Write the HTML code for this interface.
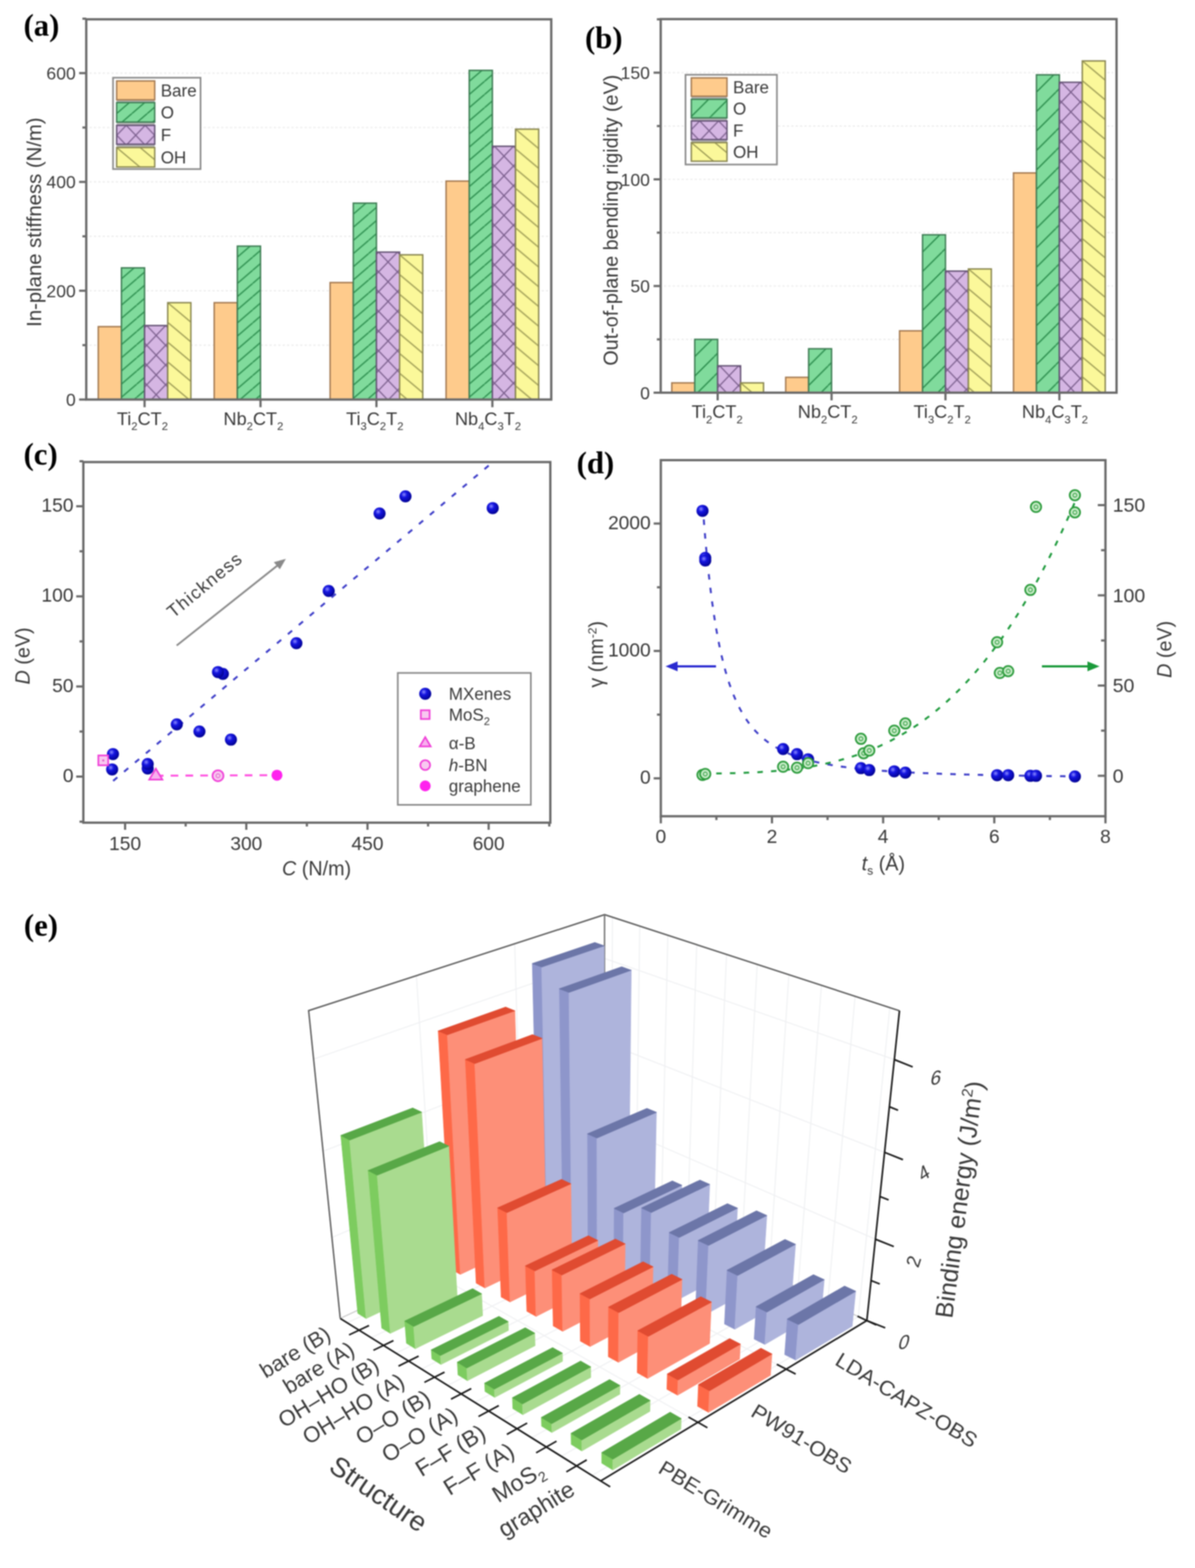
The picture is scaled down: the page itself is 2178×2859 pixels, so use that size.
<!DOCTYPE html>
<html><head><meta charset="utf-8"><style>html,body{margin:0;padding:0;background:#fff}svg{display:block;filter:blur(0.9px)}</style></head>
<body><svg width="2178" height="2859" viewBox="0 0 2178 2859">
<defs><pattern id="p1" patternUnits="userSpaceOnUse" x="221.3" y="484.4" width="27.91" height="24.00"><rect width="27.91" height="24.00" fill="#80db9c"/><path d="M-55.81,24.00 L-27.91,0 M-27.91,24.00 L0.00,0 M0.00,24.00 L27.91,0 M27.91,24.00 L55.81,0 " stroke="#2a8c4c" stroke-width="2.3" fill="none"/></pattern><pattern id="p2" patternUnits="userSpaceOnUse" x="267.4" y="593.6" width="34.50" height="36.00"><rect width="34.50" height="36.00" fill="#d5b6e3"/><path d="M-69.00,36.00 L-34.50,0 M-34.50,36.00 L0.00,0 M0.00,36.00 L34.50,0 M34.50,36.00 L69.00,0 M-34.50,0 L0.00,36.00 M0.00,0 L34.50,36.00 M34.50,0 L69.00,36.00 " stroke="#7a5e8c" stroke-width="2.2" fill="none"/></pattern><pattern id="p3" patternUnits="userSpaceOnUse" x="305.7" y="551.9" width="42.86" height="36.00"><rect width="42.86" height="36.00" fill="#fbf89a"/><path d="M-42.86,0 L0.00,36.00 M0.00,0 L42.86,36.00 M42.86,0 L85.71,36.00 " stroke="#9c9a55" stroke-width="2.3" fill="none"/></pattern><pattern id="p4" patternUnits="userSpaceOnUse" x="432.6" y="444.8" width="27.91" height="24.00"><rect width="27.91" height="24.00" fill="#80db9c"/><path d="M-55.81,24.00 L-27.91,0 M-27.91,24.00 L0.00,0 M0.00,24.00 L27.91,0 M27.91,24.00 L55.81,0 " stroke="#2a8c4c" stroke-width="2.3" fill="none"/></pattern><pattern id="p5" patternUnits="userSpaceOnUse" x="643.9" y="366.4" width="27.91" height="24.00"><rect width="27.91" height="24.00" fill="#80db9c"/><path d="M-55.81,24.00 L-27.91,0 M-27.91,24.00 L0.00,0 M0.00,24.00 L27.91,0 M27.91,24.00 L55.81,0 " stroke="#2a8c4c" stroke-width="2.3" fill="none"/></pattern><pattern id="p6" patternUnits="userSpaceOnUse" x="690.0" y="459.7" width="34.50" height="36.00"><rect width="34.50" height="36.00" fill="#d5b6e3"/><path d="M-69.00,36.00 L-34.50,0 M-34.50,36.00 L0.00,0 M0.00,36.00 L34.50,0 M34.50,36.00 L69.00,0 M-34.50,0 L0.00,36.00 M0.00,0 L34.50,36.00 M34.50,0 L69.00,36.00 " stroke="#7a5e8c" stroke-width="2.2" fill="none"/></pattern><pattern id="p7" patternUnits="userSpaceOnUse" x="728.3" y="464.6" width="42.86" height="36.00"><rect width="42.86" height="36.00" fill="#fbf89a"/><path d="M-42.86,0 L0.00,36.00 M0.00,0 L42.86,36.00 M42.86,0 L85.71,36.00 " stroke="#9c9a55" stroke-width="2.3" fill="none"/></pattern><pattern id="p8" patternUnits="userSpaceOnUse" x="855.2" y="124.3" width="27.91" height="24.00"><rect width="27.91" height="24.00" fill="#80db9c"/><path d="M-55.81,24.00 L-27.91,0 M-27.91,24.00 L0.00,0 M0.00,24.00 L27.91,0 M27.91,24.00 L55.81,0 " stroke="#2a8c4c" stroke-width="2.3" fill="none"/></pattern><pattern id="p9" patternUnits="userSpaceOnUse" x="901.3" y="266.7" width="34.50" height="36.00"><rect width="34.50" height="36.00" fill="#d5b6e3"/><path d="M-69.00,36.00 L-34.50,0 M-34.50,36.00 L0.00,0 M0.00,36.00 L34.50,0 M34.50,36.00 L69.00,0 M-34.50,0 L0.00,36.00 M0.00,0 L34.50,36.00 M34.50,0 L69.00,36.00 " stroke="#7a5e8c" stroke-width="2.2" fill="none"/></pattern><pattern id="p10" patternUnits="userSpaceOnUse" x="939.6" y="235.5" width="42.86" height="36.00"><rect width="42.86" height="36.00" fill="#fbf89a"/><path d="M-42.86,0 L0.00,36.00 M0.00,0 L42.86,36.00 M42.86,0 L85.71,36.00 " stroke="#9c9a55" stroke-width="2.3" fill="none"/></pattern><pattern id="p11" patternUnits="userSpaceOnUse" x="212.6" y="183.0" width="27.91" height="24.00"><rect width="27.91" height="24.00" fill="#80db9c"/><path d="M-55.81,24.00 L-27.91,0 M-27.91,24.00 L0.00,0 M0.00,24.00 L27.91,0 M27.91,24.00 L55.81,0 " stroke="#2a8c4c" stroke-width="2.3" fill="none"/></pattern><pattern id="p12" patternUnits="userSpaceOnUse" x="230.1" y="228.6" width="34.50" height="36.00"><rect width="34.50" height="36.00" fill="#d5b6e3"/><path d="M-69.00,36.00 L-34.50,0 M-34.50,36.00 L0.00,0 M0.00,36.00 L34.50,0 M34.50,36.00 L69.00,0 M-34.50,0 L0.00,36.00 M0.00,0 L34.50,36.00 M34.50,0 L69.00,36.00 " stroke="#7a5e8c" stroke-width="2.2" fill="none"/></pattern><pattern id="p13" patternUnits="userSpaceOnUse" x="212.6" y="269.0" width="42.86" height="36.00"><rect width="42.86" height="36.00" fill="#fbf89a"/><path d="M-42.86,0 L0.00,36.00 M0.00,0 L42.86,36.00 M42.86,0 L85.71,36.00 " stroke="#9c9a55" stroke-width="2.3" fill="none"/></pattern><pattern id="p14" patternUnits="userSpaceOnUse" x="1266.2" y="614.8" width="35.50" height="35.50"><rect width="35.50" height="35.50" fill="#80db9c"/><path d="M-71.00,35.50 L-35.50,0 M-35.50,35.50 L0.00,0 M0.00,35.50 L35.50,0 M35.50,35.50 L71.00,0 " stroke="#2a8c4c" stroke-width="2.3" fill="none"/></pattern><pattern id="p15" patternUnits="userSpaceOnUse" x="1311.7" y="667.0" width="34.50" height="36.00"><rect width="34.50" height="36.00" fill="#d5b6e3"/><path d="M-69.00,36.00 L-34.50,0 M-34.50,36.00 L0.00,0 M0.00,36.00 L34.50,0 M34.50,36.00 L69.00,0 M-34.50,0 L0.00,36.00 M0.00,0 L34.50,36.00 M34.50,0 L69.00,36.00 " stroke="#7a5e8c" stroke-width="2.2" fill="none"/></pattern><pattern id="p16" patternUnits="userSpaceOnUse" x="1349.8" y="698.1" width="42.86" height="36.00"><rect width="42.86" height="36.00" fill="#fbf89a"/><path d="M-42.86,0 L0.00,36.00 M0.00,0 L42.86,36.00 M42.86,0 L85.71,36.00 " stroke="#9c9a55" stroke-width="2.3" fill="none"/></pattern><pattern id="p17" patternUnits="userSpaceOnUse" x="1473.8" y="631.9" width="35.50" height="35.50"><rect width="35.50" height="35.50" fill="#80db9c"/><path d="M-71.00,35.50 L-35.50,0 M-35.50,35.50 L0.00,0 M0.00,35.50 L35.50,0 M35.50,35.50 L71.00,0 " stroke="#2a8c4c" stroke-width="2.3" fill="none"/></pattern><pattern id="p18" patternUnits="userSpaceOnUse" x="1681.4" y="424.1" width="35.50" height="35.50"><rect width="35.50" height="35.50" fill="#80db9c"/><path d="M-71.00,35.50 L-35.50,0 M-35.50,35.50 L0.00,0 M0.00,35.50 L35.50,0 M35.50,35.50 L71.00,0 " stroke="#2a8c4c" stroke-width="2.3" fill="none"/></pattern><pattern id="p19" patternUnits="userSpaceOnUse" x="1726.9" y="494.3" width="34.50" height="36.00"><rect width="34.50" height="36.00" fill="#d5b6e3"/><path d="M-69.00,36.00 L-34.50,0 M-34.50,36.00 L0.00,0 M0.00,36.00 L34.50,0 M34.50,36.00 L69.00,0 M-34.50,0 L0.00,36.00 M0.00,0 L34.50,36.00 M34.50,0 L69.00,36.00 " stroke="#7a5e8c" stroke-width="2.2" fill="none"/></pattern><pattern id="p20" patternUnits="userSpaceOnUse" x="1765.0" y="490.4" width="42.86" height="36.00"><rect width="42.86" height="36.00" fill="#fbf89a"/><path d="M-42.86,0 L0.00,36.00 M0.00,0 L42.86,36.00 M42.86,0 L85.71,36.00 " stroke="#9c9a55" stroke-width="2.3" fill="none"/></pattern><pattern id="p21" patternUnits="userSpaceOnUse" x="1889.0" y="132.4" width="35.50" height="35.50"><rect width="35.50" height="35.50" fill="#80db9c"/><path d="M-71.00,35.50 L-35.50,0 M-35.50,35.50 L0.00,0 M0.00,35.50 L35.50,0 M35.50,35.50 L71.00,0 " stroke="#2a8c4c" stroke-width="2.3" fill="none"/></pattern><pattern id="p22" patternUnits="userSpaceOnUse" x="1934.5" y="150.0" width="34.50" height="36.00"><rect width="34.50" height="36.00" fill="#d5b6e3"/><path d="M-69.00,36.00 L-34.50,0 M-34.50,36.00 L0.00,0 M0.00,36.00 L34.50,0 M34.50,36.00 L69.00,0 M-34.50,0 L0.00,36.00 M0.00,0 L34.50,36.00 M34.50,0 L69.00,36.00 " stroke="#7a5e8c" stroke-width="2.2" fill="none"/></pattern><pattern id="p23" patternUnits="userSpaceOnUse" x="1972.6" y="111.1" width="42.86" height="36.00"><rect width="42.86" height="36.00" fill="#fbf89a"/><path d="M-42.86,0 L0.00,36.00 M0.00,0 L42.86,36.00 M42.86,0 L85.71,36.00 " stroke="#9c9a55" stroke-width="2.3" fill="none"/></pattern><pattern id="p24" patternUnits="userSpaceOnUse" x="1260.0" y="177.0" width="35.50" height="35.50"><rect width="35.50" height="35.50" fill="#80db9c"/><path d="M-71.00,35.50 L-35.50,0 M-35.50,35.50 L0.00,0 M0.00,35.50 L35.50,0 M35.50,35.50 L71.00,0 " stroke="#2a8c4c" stroke-width="2.3" fill="none"/></pattern><pattern id="p25" patternUnits="userSpaceOnUse" x="1275.2" y="220.5" width="34.50" height="36.00"><rect width="34.50" height="36.00" fill="#d5b6e3"/><path d="M-69.00,36.00 L-34.50,0 M-34.50,36.00 L0.00,0 M0.00,36.00 L34.50,0 M34.50,36.00 L69.00,0 M-34.50,0 L0.00,36.00 M0.00,0 L34.50,36.00 M34.50,0 L69.00,36.00 " stroke="#7a5e8c" stroke-width="2.2" fill="none"/></pattern><pattern id="p26" patternUnits="userSpaceOnUse" x="1260.0" y="260.0" width="42.86" height="36.00"><rect width="42.86" height="36.00" fill="#fbf89a"/><path d="M-42.86,0 L0.00,36.00 M0.00,0 L42.86,36.00 M42.86,0 L85.71,36.00 " stroke="#9c9a55" stroke-width="2.3" fill="none"/></pattern><radialGradient id="gball" cx="0.38" cy="0.35" r="0.7"><stop offset="0" stop-color="#8c8cff"/><stop offset="0.35" stop-color="#1515e0"/><stop offset="1" stop-color="#00008c"/></radialGradient><clipPath id="clipc"><rect x="152" y="842.5" width="851" height="657.5"/></clipPath></defs>
<rect width="2178" height="2859" fill="#fff"/>
<line x1="163.2" y1="629.3" x2="998.7" y2="629.3" stroke="#ebebeb" stroke-width="2.2" stroke-dasharray="4,4"/>
<line x1="163.2" y1="530.1" x2="998.7" y2="530.1" stroke="#ebebeb" stroke-width="2.2" stroke-dasharray="4,4"/>
<line x1="163.2" y1="430.9" x2="998.7" y2="430.9" stroke="#ebebeb" stroke-width="2.2" stroke-dasharray="4,4"/>
<line x1="163.2" y1="331.7" x2="998.7" y2="331.7" stroke="#ebebeb" stroke-width="2.2" stroke-dasharray="4,4"/>
<line x1="163.2" y1="232.5" x2="998.7" y2="232.5" stroke="#ebebeb" stroke-width="2.2" stroke-dasharray="4,4"/>
<line x1="163.2" y1="133.3" x2="998.7" y2="133.3" stroke="#ebebeb" stroke-width="2.2" stroke-dasharray="4,4"/>
<rect x="179.1" y="595.6" width="42.2" height="132.9" fill="#fecb8c" stroke="#a47a52" stroke-width="2.6"/>
<rect x="221.3" y="488.4" width="42.2" height="240.1" fill="url(#p1)" stroke="#3f7d55" stroke-width="2.6"/>
<rect x="263.5" y="593.6" width="42.2" height="134.9" fill="url(#p2)" stroke="#655475" stroke-width="2.6"/>
<rect x="305.7" y="551.9" width="42.2" height="176.6" fill="url(#p3)" stroke="#8a8752" stroke-width="2.6"/>
<rect x="390.4" y="551.9" width="42.2" height="176.6" fill="#fecb8c" stroke="#a47a52" stroke-width="2.6"/>
<rect x="432.6" y="448.8" width="42.2" height="279.7" fill="url(#p4)" stroke="#3f7d55" stroke-width="2.6"/>
<rect x="601.7" y="515.2" width="42.2" height="213.3" fill="#fecb8c" stroke="#a47a52" stroke-width="2.6"/>
<rect x="643.9" y="370.4" width="42.2" height="358.1" fill="url(#p5)" stroke="#3f7d55" stroke-width="2.6"/>
<rect x="686.1" y="459.7" width="42.2" height="268.8" fill="url(#p6)" stroke="#655475" stroke-width="2.6"/>
<rect x="728.3" y="464.6" width="42.2" height="263.9" fill="url(#p7)" stroke="#8a8752" stroke-width="2.6"/>
<rect x="813.0" y="330.2" width="42.2" height="398.3" fill="#fecb8c" stroke="#a47a52" stroke-width="2.6"/>
<rect x="855.2" y="128.3" width="42.2" height="600.2" fill="url(#p8)" stroke="#3f7d55" stroke-width="2.6"/>
<rect x="897.4" y="266.7" width="42.2" height="461.8" fill="url(#p9)" stroke="#655475" stroke-width="2.6"/>
<rect x="939.6" y="235.5" width="42.2" height="493.0" fill="url(#p10)" stroke="#8a8752" stroke-width="2.6"/>
<rect x="157.2" y="35.2" width="847.5" height="693.3" fill="none" stroke="#6a6a6a" stroke-width="4.2"/>
<line x1="144.2" y1="728.5" x2="157.2" y2="728.5" stroke="#6a6a6a" stroke-width="4"/>
<text x="138.0" y="740.0" font-family="'Liberation Sans', Arial, sans-serif" font-size="32" fill="#3a3a3a" text-anchor="end">0</text>
<line x1="144.2" y1="530.1" x2="157.2" y2="530.1" stroke="#6a6a6a" stroke-width="4"/>
<text x="138.0" y="541.6" font-family="'Liberation Sans', Arial, sans-serif" font-size="32" fill="#3a3a3a" text-anchor="end">200</text>
<line x1="144.2" y1="331.7" x2="157.2" y2="331.7" stroke="#6a6a6a" stroke-width="4"/>
<text x="138.0" y="343.2" font-family="'Liberation Sans', Arial, sans-serif" font-size="32" fill="#3a3a3a" text-anchor="end">400</text>
<line x1="144.2" y1="133.3" x2="157.2" y2="133.3" stroke="#6a6a6a" stroke-width="4"/>
<text x="138.0" y="144.8" font-family="'Liberation Sans', Arial, sans-serif" font-size="32" fill="#3a3a3a" text-anchor="end">600</text>
<line x1="150.2" y1="629.3" x2="157.2" y2="629.3" stroke="#6a6a6a" stroke-width="4"/>
<line x1="150.2" y1="430.9" x2="157.2" y2="430.9" stroke="#6a6a6a" stroke-width="4"/>
<line x1="150.2" y1="232.5" x2="157.2" y2="232.5" stroke="#6a6a6a" stroke-width="4"/>
<line x1="150.2" y1="34.1" x2="157.2" y2="34.1" stroke="#6a6a6a" stroke-width="4"/>
<line x1="263.5" y1="728.5" x2="263.5" y2="742.5" stroke="#6a6a6a" stroke-width="4"/>
<line x1="474.8" y1="728.5" x2="474.8" y2="742.5" stroke="#6a6a6a" stroke-width="4"/>
<line x1="686.1" y1="728.5" x2="686.1" y2="742.5" stroke="#6a6a6a" stroke-width="4"/>
<line x1="897.4" y1="728.5" x2="897.4" y2="742.5" stroke="#6a6a6a" stroke-width="4"/>
<text x="259.5" y="774.5" font-family="'Liberation Sans', Arial, sans-serif" font-size="33" fill="#3a3a3a" text-anchor="middle"><tspan dy="0.0">Ti</tspan><tspan font-size="20.5" dy="9.9">2</tspan><tspan dy="-9.9">CT</tspan><tspan font-size="20.5" dy="9.9">2</tspan></text>
<text x="461.8" y="774.5" font-family="'Liberation Sans', Arial, sans-serif" font-size="33" fill="#3a3a3a" text-anchor="middle"><tspan dy="0.0">Nb</tspan><tspan font-size="20.5" dy="9.9">2</tspan><tspan dy="-9.9">CT</tspan><tspan font-size="20.5" dy="9.9">2</tspan></text>
<text x="683.1" y="774.5" font-family="'Liberation Sans', Arial, sans-serif" font-size="33" fill="#3a3a3a" text-anchor="middle"><tspan dy="0.0">Ti</tspan><tspan font-size="20.5" dy="9.9">3</tspan><tspan dy="-9.9">C</tspan><tspan font-size="20.5" dy="9.9">2</tspan><tspan dy="-9.9">T</tspan><tspan font-size="20.5" dy="9.9">2</tspan></text>
<text x="889.4" y="774.5" font-family="'Liberation Sans', Arial, sans-serif" font-size="33" fill="#3a3a3a" text-anchor="middle"><tspan dy="0.0">Nb</tspan><tspan font-size="20.5" dy="9.9">4</tspan><tspan dy="-9.9">C</tspan><tspan font-size="20.5" dy="9.9">3</tspan><tspan dy="-9.9">T</tspan><tspan font-size="20.5" dy="9.9">2</tspan></text>
<text x="0" y="0" transform="translate(75.0,405.0) rotate(-90)" font-family="'Liberation Sans', Arial, sans-serif" font-size="37" fill="#3a3a3a" text-anchor="middle">In-plane stiffness (N/m)</text>
<rect x="206.0" y="141.7" width="159.5" height="166.6" fill="#fff" stroke="#8a8a8a" stroke-width="3"/>
<rect x="212.6" y="147.6" width="69.4" height="156.9" fill="#b4b4b4"/>
<rect x="212.6" y="147.6" width="69.4" height="34.4" fill="#fecb8c" stroke="#a47a52" stroke-width="2.6"/>
<text x="292.9" y="175.8" font-family="'Liberation Sans', Arial, sans-serif" font-size="31" fill="#3a3a3a">Bare</text>
<rect x="212.6" y="187.0" width="69.4" height="35.6" fill="url(#p11)" stroke="#3f7d55" stroke-width="2.6"/>
<text x="292.9" y="215.8" font-family="'Liberation Sans', Arial, sans-serif" font-size="31" fill="#3a3a3a">O</text>
<rect x="212.6" y="228.6" width="69.4" height="34.4" fill="url(#p12)" stroke="#655475" stroke-width="2.6"/>
<text x="292.9" y="256.8" font-family="'Liberation Sans', Arial, sans-serif" font-size="31" fill="#3a3a3a">F</text>
<rect x="212.6" y="269.0" width="69.4" height="35.5" fill="url(#p13)" stroke="#8a8752" stroke-width="2.6"/>
<text x="292.9" y="297.8" font-family="'Liberation Sans', Arial, sans-serif" font-size="31" fill="#3a3a3a">OH</text>
<text x="42.9" y="65.3" font-family="'Liberation Serif', 'Times New Roman', serif" font-weight="bold" font-size="56" fill="#000">(a)</text>
<line x1="1210.2" y1="618.8" x2="2029.0" y2="618.8" stroke="#ebebeb" stroke-width="2.2" stroke-dasharray="4,4"/>
<line x1="1210.2" y1="521.5" x2="2029.0" y2="521.5" stroke="#ebebeb" stroke-width="2.2" stroke-dasharray="4,4"/>
<line x1="1210.2" y1="424.2" x2="2029.0" y2="424.2" stroke="#ebebeb" stroke-width="2.2" stroke-dasharray="4,4"/>
<line x1="1210.2" y1="327.0" x2="2029.0" y2="327.0" stroke="#ebebeb" stroke-width="2.2" stroke-dasharray="4,4"/>
<line x1="1210.2" y1="229.8" x2="2029.0" y2="229.8" stroke="#ebebeb" stroke-width="2.2" stroke-dasharray="4,4"/>
<line x1="1210.2" y1="132.5" x2="2029.0" y2="132.5" stroke="#ebebeb" stroke-width="2.2" stroke-dasharray="4,4"/>
<rect x="1224.4" y="698.1" width="41.8" height="17.9" fill="#fecb8c" stroke="#a47a52" stroke-width="2.6"/>
<rect x="1266.2" y="618.8" width="41.8" height="97.2" fill="url(#p14)" stroke="#3f7d55" stroke-width="2.6"/>
<rect x="1308.0" y="667.0" width="41.8" height="49.0" fill="url(#p15)" stroke="#655475" stroke-width="2.6"/>
<rect x="1349.8" y="698.1" width="41.8" height="17.9" fill="url(#p16)" stroke="#8a8752" stroke-width="2.6"/>
<rect x="1432.0" y="688.0" width="41.8" height="28.0" fill="#fecb8c" stroke="#a47a52" stroke-width="2.6"/>
<rect x="1473.8" y="635.9" width="41.8" height="80.1" fill="url(#p17)" stroke="#3f7d55" stroke-width="2.6"/>
<rect x="1639.6" y="603.2" width="41.8" height="112.8" fill="#fecb8c" stroke="#a47a52" stroke-width="2.6"/>
<rect x="1681.4" y="428.1" width="41.8" height="287.9" fill="url(#p18)" stroke="#3f7d55" stroke-width="2.6"/>
<rect x="1723.2" y="494.3" width="41.8" height="221.7" fill="url(#p19)" stroke="#655475" stroke-width="2.6"/>
<rect x="1765.0" y="490.4" width="41.8" height="225.6" fill="url(#p20)" stroke="#8a8752" stroke-width="2.6"/>
<rect x="1847.2" y="315.3" width="41.8" height="400.7" fill="#fecb8c" stroke="#a47a52" stroke-width="2.6"/>
<rect x="1889.0" y="136.4" width="41.8" height="579.6" fill="url(#p21)" stroke="#3f7d55" stroke-width="2.6"/>
<rect x="1930.8" y="150.0" width="41.8" height="566.0" fill="url(#p22)" stroke="#655475" stroke-width="2.6"/>
<rect x="1972.6" y="111.1" width="41.8" height="604.9" fill="url(#p23)" stroke="#8a8752" stroke-width="2.6"/>
<rect x="1204.2" y="34.8" width="830.8" height="681.2" fill="none" stroke="#6a6a6a" stroke-width="4.2"/>
<line x1="1191.2" y1="716.0" x2="1204.2" y2="716.0" stroke="#6a6a6a" stroke-width="4"/>
<text x="1184.5" y="727.5" font-family="'Liberation Sans', Arial, sans-serif" font-size="32" fill="#3a3a3a" text-anchor="end">0</text>
<line x1="1191.2" y1="521.5" x2="1204.2" y2="521.5" stroke="#6a6a6a" stroke-width="4"/>
<text x="1184.5" y="533.0" font-family="'Liberation Sans', Arial, sans-serif" font-size="32" fill="#3a3a3a" text-anchor="end">50</text>
<line x1="1191.2" y1="327.0" x2="1204.2" y2="327.0" stroke="#6a6a6a" stroke-width="4"/>
<text x="1184.5" y="338.5" font-family="'Liberation Sans', Arial, sans-serif" font-size="32" fill="#3a3a3a" text-anchor="end">100</text>
<line x1="1191.2" y1="132.5" x2="1204.2" y2="132.5" stroke="#6a6a6a" stroke-width="4"/>
<text x="1184.5" y="144.0" font-family="'Liberation Sans', Arial, sans-serif" font-size="32" fill="#3a3a3a" text-anchor="end">150</text>
<line x1="1197.2" y1="618.8" x2="1204.2" y2="618.8" stroke="#6a6a6a" stroke-width="4"/>
<line x1="1197.2" y1="424.2" x2="1204.2" y2="424.2" stroke="#6a6a6a" stroke-width="4"/>
<line x1="1197.2" y1="229.8" x2="1204.2" y2="229.8" stroke="#6a6a6a" stroke-width="4"/>
<line x1="1197.2" y1="35.2" x2="1204.2" y2="35.2" stroke="#6a6a6a" stroke-width="4"/>
<line x1="1308.0" y1="716.0" x2="1308.0" y2="730.0" stroke="#6a6a6a" stroke-width="4"/>
<line x1="1515.6" y1="716.0" x2="1515.6" y2="730.0" stroke="#6a6a6a" stroke-width="4"/>
<line x1="1723.2" y1="716.0" x2="1723.2" y2="730.0" stroke="#6a6a6a" stroke-width="4"/>
<line x1="1930.8" y1="716.0" x2="1930.8" y2="730.0" stroke="#6a6a6a" stroke-width="4"/>
<text x="1307.0" y="762.0" font-family="'Liberation Sans', Arial, sans-serif" font-size="33" fill="#3a3a3a" text-anchor="middle"><tspan dy="0.0">Ti</tspan><tspan font-size="20.5" dy="9.9">2</tspan><tspan dy="-9.9">CT</tspan><tspan font-size="20.5" dy="9.9">2</tspan></text>
<text x="1508.6" y="762.0" font-family="'Liberation Sans', Arial, sans-serif" font-size="33" fill="#3a3a3a" text-anchor="middle"><tspan dy="0.0">Nb</tspan><tspan font-size="20.5" dy="9.9">2</tspan><tspan dy="-9.9">CT</tspan><tspan font-size="20.5" dy="9.9">2</tspan></text>
<text x="1717.2" y="762.0" font-family="'Liberation Sans', Arial, sans-serif" font-size="33" fill="#3a3a3a" text-anchor="middle"><tspan dy="0.0">Ti</tspan><tspan font-size="20.5" dy="9.9">3</tspan><tspan dy="-9.9">C</tspan><tspan font-size="20.5" dy="9.9">2</tspan><tspan dy="-9.9">T</tspan><tspan font-size="20.5" dy="9.9">2</tspan></text>
<text x="1922.8" y="762.0" font-family="'Liberation Sans', Arial, sans-serif" font-size="33" fill="#3a3a3a" text-anchor="middle"><tspan dy="0.0">Nb</tspan><tspan font-size="20.5" dy="9.9">4</tspan><tspan dy="-9.9">C</tspan><tspan font-size="20.5" dy="9.9">3</tspan><tspan dy="-9.9">T</tspan><tspan font-size="20.5" dy="9.9">2</tspan></text>
<text x="0" y="0" transform="translate(1126.0,401.5) rotate(-90)" font-family="'Liberation Sans', Arial, sans-serif" font-size="36" fill="#3a3a3a" text-anchor="middle">Out-of-plane bending rigidity (eV)</text>
<rect x="1249.4" y="136.3" width="166.6" height="163.7" fill="#fff" stroke="#8a8a8a" stroke-width="3"/>
<rect x="1260.0" y="142.0" width="65.0" height="152.0" fill="#b4b4b4"/>
<rect x="1260.0" y="142.0" width="65.0" height="33.5" fill="#fecb8c" stroke="#a47a52" stroke-width="2.6"/>
<text x="1336.0" y="169.8" font-family="'Liberation Sans', Arial, sans-serif" font-size="31" fill="#3a3a3a">Bare</text>
<rect x="1260.0" y="181.0" width="65.0" height="34.0" fill="url(#p24)" stroke="#3f7d55" stroke-width="2.6"/>
<text x="1336.0" y="209.0" font-family="'Liberation Sans', Arial, sans-serif" font-size="31" fill="#3a3a3a">O</text>
<rect x="1260.0" y="220.5" width="65.0" height="34.0" fill="url(#p25)" stroke="#655475" stroke-width="2.6"/>
<text x="1336.0" y="248.5" font-family="'Liberation Sans', Arial, sans-serif" font-size="31" fill="#3a3a3a">F</text>
<rect x="1260.0" y="260.0" width="65.0" height="34.0" fill="url(#p26)" stroke="#8a8752" stroke-width="2.6"/>
<text x="1336.0" y="288.0" font-family="'Liberation Sans', Arial, sans-serif" font-size="31" fill="#3a3a3a">OH</text>
<text x="1066.2" y="88.1" font-family="'Liberation Serif', 'Times New Roman', serif" font-weight="bold" font-size="56" fill="#000">(b)</text>
<rect x="151.9" y="842.5" width="851.1" height="657.5" fill="none" stroke="#6a6a6a" stroke-width="4.2"/>
<line x1="138.9" y1="1416.0" x2="151.9" y2="1416.0" stroke="#6a6a6a" stroke-width="4"/>
<text x="134.0" y="1426.0" font-family="'Liberation Sans', Arial, sans-serif" font-size="35" fill="#3a3a3a" text-anchor="end">0</text>
<line x1="138.9" y1="1251.7" x2="151.9" y2="1251.7" stroke="#6a6a6a" stroke-width="4"/>
<text x="134.0" y="1261.7" font-family="'Liberation Sans', Arial, sans-serif" font-size="35" fill="#3a3a3a" text-anchor="end">50</text>
<line x1="138.9" y1="1087.4" x2="151.9" y2="1087.4" stroke="#6a6a6a" stroke-width="4"/>
<text x="134.0" y="1097.4" font-family="'Liberation Sans', Arial, sans-serif" font-size="35" fill="#3a3a3a" text-anchor="end">100</text>
<line x1="138.9" y1="923.1" x2="151.9" y2="923.1" stroke="#6a6a6a" stroke-width="4"/>
<text x="134.0" y="933.1" font-family="'Liberation Sans', Arial, sans-serif" font-size="35" fill="#3a3a3a" text-anchor="end">150</text>
<line x1="144.9" y1="1498.2" x2="151.9" y2="1498.2" stroke="#6a6a6a" stroke-width="4"/>
<line x1="144.9" y1="1333.8" x2="151.9" y2="1333.8" stroke="#6a6a6a" stroke-width="4"/>
<line x1="144.9" y1="1169.5" x2="151.9" y2="1169.5" stroke="#6a6a6a" stroke-width="4"/>
<line x1="144.9" y1="1005.2" x2="151.9" y2="1005.2" stroke="#6a6a6a" stroke-width="4"/>
<line x1="144.9" y1="841.0" x2="151.9" y2="841.0" stroke="#6a6a6a" stroke-width="4"/>
<line x1="228.0" y1="1500.0" x2="228.0" y2="1513.0" stroke="#6a6a6a" stroke-width="4"/>
<text x="228.0" y="1550.0" font-family="'Liberation Sans', Arial, sans-serif" font-size="35" fill="#3a3a3a" text-anchor="middle">150</text>
<line x1="448.9" y1="1500.0" x2="448.9" y2="1513.0" stroke="#6a6a6a" stroke-width="4"/>
<text x="448.9" y="1550.0" font-family="'Liberation Sans', Arial, sans-serif" font-size="35" fill="#3a3a3a" text-anchor="middle">300</text>
<line x1="669.8" y1="1500.0" x2="669.8" y2="1513.0" stroke="#6a6a6a" stroke-width="4"/>
<text x="669.8" y="1550.0" font-family="'Liberation Sans', Arial, sans-serif" font-size="35" fill="#3a3a3a" text-anchor="middle">450</text>
<line x1="890.6" y1="1500.0" x2="890.6" y2="1513.0" stroke="#6a6a6a" stroke-width="4"/>
<text x="890.6" y="1550.0" font-family="'Liberation Sans', Arial, sans-serif" font-size="35" fill="#3a3a3a" text-anchor="middle">600</text>
<line x1="338.4" y1="1500.0" x2="338.4" y2="1507.0" stroke="#6a6a6a" stroke-width="4"/>
<line x1="559.3" y1="1500.0" x2="559.3" y2="1507.0" stroke="#6a6a6a" stroke-width="4"/>
<line x1="780.2" y1="1500.0" x2="780.2" y2="1507.0" stroke="#6a6a6a" stroke-width="4"/>
<line x1="1001.1" y1="1500.0" x2="1001.1" y2="1507.0" stroke="#6a6a6a" stroke-width="4"/>
<line x1="206.2" y1="1423.9" x2="900.0" y2="841.0" stroke="#3e3ec8" stroke-width="3.6" stroke-dasharray="10,16" clip-path="url(#clipc)"/>
<line x1="284.0" y1="1414.4" x2="504.8" y2="1413.4" stroke="#ff50e0" stroke-width="3.6" stroke-dasharray="14,13"/>
<circle cx="204.4" cy="1402.9" r="11" fill="url(#gball)"/>
<circle cx="363.5" cy="1333.8" r="11" fill="url(#gball)"/>
<circle cx="205.9" cy="1374.9" r="11" fill="url(#gball)"/>
<circle cx="269.2" cy="1401.2" r="11" fill="url(#gball)"/>
<circle cx="269.2" cy="1393.0" r="11" fill="url(#gball)"/>
<circle cx="420.9" cy="1348.6" r="11" fill="url(#gball)"/>
<circle cx="322.2" cy="1320.7" r="11" fill="url(#gball)"/>
<circle cx="540.2" cy="1172.8" r="11" fill="url(#gball)"/>
<circle cx="406.2" cy="1228.7" r="11" fill="url(#gball)"/>
<circle cx="397.3" cy="1225.4" r="11" fill="url(#gball)"/>
<circle cx="599.1" cy="1077.5" r="11" fill="url(#gball)"/>
<circle cx="898.0" cy="926.4" r="11" fill="url(#gball)"/>
<circle cx="691.8" cy="936.2" r="11" fill="url(#gball)"/>
<circle cx="739.0" cy="905.0" r="11" fill="url(#gball)"/>
<rect x="179.2" y="1377.4" width="18" height="18" fill="#f8c8f0" stroke="#f040d8" stroke-width="3"/><circle cx="188.2" cy="1386.4" r="2" fill="#e060c8"/>
<path d="M284.0,1401.4 l12,20 l-24,0 z" fill="#f8b0ee" stroke="#f040d8" stroke-width="3"/>
<circle cx="397.3" cy="1414.4" r="10" fill="#f8c8f0" stroke="#f040d8" stroke-width="3"/><circle cx="397.3" cy="1414.4" r="3.5" fill="none" stroke="#e060c8" stroke-width="1.5"/>
<circle cx="504.8" cy="1413.4" r="10" fill="#ff22ee"/>
<rect x="725" y="1227" width="242.5" height="240.5" fill="#fff" stroke="#8a8a8a" stroke-width="3"/>
<circle cx="775" cy="1265" r="11" fill="url(#gball)"/>
<rect x="767" y="1295" width="16" height="16" fill="#f8c8f0" stroke="#f040d8" stroke-width="3"/>
<path d="M775,1344 l10,17 l-20,0 z" fill="#f8b0ee" stroke="#f040d8" stroke-width="3"/>
<circle cx="775" cy="1395" r="9" fill="#f8c8f0" stroke="#f040d8" stroke-width="3"/>
<circle cx="775" cy="1433" r="10" fill="#ff22ee"/>
<text x="818" y="1276" font-family="'Liberation Sans', Arial, sans-serif" font-size="31" fill="#3a3a3a">MXenes</text>
<text x="818" y="1314" font-family="'Liberation Sans', Arial, sans-serif" font-size="31" fill="#3a3a3a">MoS<tspan font-size="20" dy="8">2</tspan></text>
<text x="818" y="1366" font-family="'Liberation Sans', Arial, sans-serif" font-size="31" fill="#3a3a3a">&#945;-B</text>
<text x="818" y="1406" font-family="'Liberation Sans', Arial, sans-serif" font-size="31" fill="#3a3a3a"><tspan font-style="italic">h</tspan>-BN</text>
<text x="818" y="1444" font-family="'Liberation Sans', Arial, sans-serif" font-size="31" fill="#3a3a3a">graphene</text>
<line x1="322" y1="1177" x2="512" y2="1026" stroke="#8a8a8a" stroke-width="3.4"/>
<path d="M521,1019 l-22,6 l11,13 z" fill="#8a8a8a"/>
<text x="0" y="0" transform="translate(316,1128) rotate(-39.5)" font-family="'Liberation Sans', Arial, sans-serif" font-size="33" letter-spacing="2" fill="#3a3a3a">Thickness</text>
<text x="577" y="1596" font-family="'Liberation Sans', Arial, sans-serif" font-size="36" fill="#3a3a3a" text-anchor="middle"><tspan font-style="italic">C</tspan> (N/m)</text>
<text x="0" y="0" transform="translate(54,1196) rotate(-90)" font-family="'Liberation Sans', Arial, sans-serif" font-size="36" fill="#3a3a3a" text-anchor="middle"><tspan font-style="italic">D</tspan> (eV)</text>
<text x="42.9" y="846.6" font-family="'Liberation Serif', 'Times New Roman', serif" font-weight="bold" font-size="56" fill="#000">(c)</text>
<rect x="1204.4" y="839.0" width="810.4" height="649.3" fill="none" stroke="#6a6a6a" stroke-width="4.2"/>
<line x1="1191.4" y1="1419.2" x2="1204.4" y2="1419.2" stroke="#6a6a6a" stroke-width="4"/>
<text x="1186.0" y="1429.2" font-family="'Liberation Sans', Arial, sans-serif" font-size="35" fill="#3a3a3a" text-anchor="end">0</text>
<line x1="1191.4" y1="1186.9" x2="1204.4" y2="1186.9" stroke="#6a6a6a" stroke-width="4"/>
<text x="1186.0" y="1196.9" font-family="'Liberation Sans', Arial, sans-serif" font-size="35" fill="#3a3a3a" text-anchor="end">1000</text>
<line x1="1191.4" y1="954.6" x2="1204.4" y2="954.6" stroke="#6a6a6a" stroke-width="4"/>
<text x="1186.0" y="964.6" font-family="'Liberation Sans', Arial, sans-serif" font-size="35" fill="#3a3a3a" text-anchor="end">2000</text>
<line x1="1197.4" y1="1303.0" x2="1204.4" y2="1303.0" stroke="#6a6a6a" stroke-width="4"/>
<line x1="1197.4" y1="1070.8" x2="1204.4" y2="1070.8" stroke="#6a6a6a" stroke-width="4"/>
<line x1="2014.8" y1="1414.5" x2="2000.8" y2="1414.5" stroke="#6a6a6a" stroke-width="4"/>
<text x="2028.0" y="1426.5" font-family="'Liberation Sans', Arial, sans-serif" font-size="35.5" fill="#3a3a3a">0</text>
<line x1="2014.8" y1="1250.0" x2="2000.8" y2="1250.0" stroke="#6a6a6a" stroke-width="4"/>
<text x="2028.0" y="1262.0" font-family="'Liberation Sans', Arial, sans-serif" font-size="35.5" fill="#3a3a3a">50</text>
<line x1="2014.8" y1="1085.5" x2="2000.8" y2="1085.5" stroke="#6a6a6a" stroke-width="4"/>
<text x="2028.0" y="1097.5" font-family="'Liberation Sans', Arial, sans-serif" font-size="35.5" fill="#3a3a3a">100</text>
<line x1="2014.8" y1="921.0" x2="2000.8" y2="921.0" stroke="#6a6a6a" stroke-width="4"/>
<text x="2028.0" y="933.0" font-family="'Liberation Sans', Arial, sans-serif" font-size="35.5" fill="#3a3a3a">150</text>
<line x1="2014.8" y1="1332.2" x2="2006.8" y2="1332.2" stroke="#6a6a6a" stroke-width="4"/>
<line x1="2014.8" y1="1167.8" x2="2006.8" y2="1167.8" stroke="#6a6a6a" stroke-width="4"/>
<line x1="2014.8" y1="1003.2" x2="2006.8" y2="1003.2" stroke="#6a6a6a" stroke-width="4"/>
<line x1="1204.4" y1="1488.3" x2="1204.4" y2="1501.3" stroke="#6a6a6a" stroke-width="4"/>
<text x="1204.4" y="1537.3" font-family="'Liberation Sans', Arial, sans-serif" font-size="35" fill="#3a3a3a" text-anchor="middle">0</text>
<line x1="1407.0" y1="1488.3" x2="1407.0" y2="1501.3" stroke="#6a6a6a" stroke-width="4"/>
<text x="1407.0" y="1537.3" font-family="'Liberation Sans', Arial, sans-serif" font-size="35" fill="#3a3a3a" text-anchor="middle">2</text>
<line x1="1609.6" y1="1488.3" x2="1609.6" y2="1501.3" stroke="#6a6a6a" stroke-width="4"/>
<text x="1609.6" y="1537.3" font-family="'Liberation Sans', Arial, sans-serif" font-size="35" fill="#3a3a3a" text-anchor="middle">4</text>
<line x1="1812.2" y1="1488.3" x2="1812.2" y2="1501.3" stroke="#6a6a6a" stroke-width="4"/>
<text x="1812.2" y="1537.3" font-family="'Liberation Sans', Arial, sans-serif" font-size="35" fill="#3a3a3a" text-anchor="middle">6</text>
<line x1="2014.8" y1="1488.3" x2="2014.8" y2="1501.3" stroke="#6a6a6a" stroke-width="4"/>
<text x="2014.8" y="1537.3" font-family="'Liberation Sans', Arial, sans-serif" font-size="35" fill="#3a3a3a" text-anchor="middle">8</text>
<line x1="1305.7" y1="1488.3" x2="1305.7" y2="1495.3" stroke="#6a6a6a" stroke-width="4"/>
<line x1="1508.3" y1="1488.3" x2="1508.3" y2="1495.3" stroke="#6a6a6a" stroke-width="4"/>
<line x1="1710.9" y1="1488.3" x2="1710.9" y2="1495.3" stroke="#6a6a6a" stroke-width="4"/>
<line x1="1913.5" y1="1488.3" x2="1913.5" y2="1495.3" stroke="#6a6a6a" stroke-width="4"/>
<polyline points="1280.8,922.3 1284.2,967.3 1287.7,1006.6 1291.1,1041.1 1294.6,1071.5 1298.0,1098.5 1301.5,1122.5 1304.9,1144.0 1308.4,1163.2 1311.8,1180.6 1315.3,1196.3 1318.8,1210.5 1322.2,1223.4 1325.7,1235.2 1329.1,1246.0 1332.6,1255.8 1336.0,1264.9 1339.5,1273.3 1342.9,1281.0 1346.4,1288.1 1349.8,1294.7 1353.3,1300.8 1356.7,1306.5 1360.2,1311.8 1363.6,1316.7 1367.1,1321.4 1370.5,1325.7 1374.0,1329.7 1377.4,1333.5 1380.9,1337.1 1384.3,1340.4 1387.8,1343.6 1391.2,1346.6 1394.7,1349.4 1398.1,1352.0 1401.6,1354.5 1405.0,1356.9 1408.5,1359.1 1411.9,1361.3 1415.4,1363.3 1418.8,1365.2 1422.3,1367.0 1425.7,1368.7 1429.2,1370.4 1432.6,1372.0 1436.1,1373.5 1439.5,1374.9 1443.0,1376.3 1446.5,1377.6 1449.9,1378.8 1453.4,1380.0 1456.8,1381.2 1460.3,1382.2 1463.7,1383.3 1467.2,1384.3 1470.6,1385.3 1474.1,1386.2 1477.5,1387.1 1481.0,1387.9 1484.4,1388.8 1487.9,1389.6 1491.3,1390.3 1494.8,1391.1 1498.2,1391.8 1501.7,1392.4 1505.1,1393.1 1508.6,1393.7 1512.0,1394.3 1515.5,1394.9 1518.9,1395.5 1522.4,1396.0 1525.8,1396.6 1529.3,1397.1 1532.7,1397.6 1536.2,1398.1 1539.6,1398.5 1543.1,1399.0 1546.5,1399.4 1550.0,1399.8 1553.4,1400.2 1556.9,1400.6 1560.3,1401.0 1563.8,1401.4 1567.2,1401.8 1570.7,1402.1 1574.2,1402.5 1577.6,1402.8 1581.1,1403.1 1584.5,1403.4 1588.0,1403.7 1591.4,1404.0 1594.9,1404.3 1598.3,1404.6 1601.8,1404.9 1605.2,1405.1 1608.7,1405.4 1612.1,1405.6 1615.6,1405.9 1619.0,1406.1 1622.5,1406.3 1625.9,1406.6 1629.4,1406.8 1632.8,1407.0 1636.3,1407.2 1639.7,1407.4 1643.2,1407.6 1646.6,1407.8 1650.1,1408.0 1653.5,1408.2 1657.0,1408.4 1660.4,1408.5 1663.9,1408.7 1667.3,1408.9 1670.8,1409.0 1674.2,1409.2 1677.7,1409.4 1681.1,1409.5 1684.6,1409.7 1688.0,1409.8 1691.5,1409.9 1694.9,1410.1 1698.4,1410.2 1701.8,1410.4 1705.3,1410.5 1708.8,1410.6 1712.2,1410.7 1715.7,1410.9 1719.1,1411.0 1722.6,1411.1 1726.0,1411.2 1729.5,1411.3 1732.9,1411.4 1736.4,1411.5 1739.8,1411.6 1743.3,1411.8 1746.7,1411.9 1750.2,1412.0 1753.6,1412.0 1757.1,1412.1 1760.5,1412.2 1764.0,1412.3 1767.4,1412.4 1770.9,1412.5 1774.3,1412.6 1777.8,1412.7 1781.2,1412.8 1784.7,1412.8 1788.1,1412.9 1791.6,1413.0 1795.0,1413.1 1798.5,1413.2 1801.9,1413.2 1805.4,1413.3 1808.8,1413.4 1812.3,1413.5 1815.7,1413.5 1819.2,1413.6 1822.6,1413.7 1826.1,1413.7 1829.5,1413.8 1833.0,1413.9 1836.5,1413.9 1839.9,1414.0 1843.4,1414.0 1846.8,1414.1 1850.3,1414.2 1853.7,1414.2 1857.2,1414.3 1860.6,1414.3 1864.1,1414.4 1867.5,1414.4 1871.0,1414.5 1874.4,1414.5 1877.9,1414.6 1881.3,1414.6 1884.8,1414.7 1888.2,1414.7 1891.7,1414.8 1895.1,1414.8 1898.6,1414.9 1902.0,1414.9 1905.5,1415.0 1908.9,1415.0 1912.4,1415.1 1915.8,1415.1 1919.3,1415.1 1922.7,1415.2 1926.2,1415.2 1929.6,1415.3 1933.1,1415.3 1936.5,1415.3 1940.0,1415.4 1943.4,1415.4 1946.9,1415.5 1950.3,1415.5 1953.8,1415.5 1957.2,1415.6 1960.7,1415.6 1964.2,1415.6" fill="none" stroke="#3e3ec8" stroke-width="3.6" stroke-dasharray="10,15"/>
<polyline points="1280.4,1410.5 1283.8,1410.5 1287.2,1410.5 1290.6,1410.5 1294.0,1410.4 1297.4,1410.4 1300.8,1410.4 1304.2,1410.3 1307.7,1410.3 1311.1,1410.2 1314.5,1410.2 1317.9,1410.1 1321.3,1410.0 1324.7,1410.0 1328.1,1409.9 1331.5,1409.8 1334.9,1409.7 1338.4,1409.7 1341.8,1409.6 1345.2,1409.5 1348.6,1409.3 1352.0,1409.2 1355.4,1409.1 1358.8,1409.0 1362.2,1408.8 1365.6,1408.7 1369.1,1408.5 1372.5,1408.4 1375.9,1408.2 1379.3,1408.0 1382.7,1407.9 1386.1,1407.7 1389.5,1407.4 1392.9,1407.2 1396.3,1407.0 1399.7,1406.8 1403.2,1406.5 1406.6,1406.3 1410.0,1406.0 1413.4,1405.7 1416.8,1405.4 1420.2,1405.1 1423.6,1404.8 1427.0,1404.4 1430.4,1404.1 1433.9,1403.7 1437.3,1403.3 1440.7,1402.9 1444.1,1402.5 1447.5,1402.1 1450.9,1401.7 1454.3,1401.2 1457.7,1400.8 1461.1,1400.3 1464.5,1399.8 1468.0,1399.2 1471.4,1398.7 1474.8,1398.2 1478.2,1397.6 1481.6,1397.0 1485.0,1396.4 1488.4,1395.7 1491.8,1395.1 1495.2,1394.4 1498.7,1393.7 1502.1,1393.0 1505.5,1392.3 1508.9,1391.5 1512.3,1390.7 1515.7,1389.9 1519.1,1389.1 1522.5,1388.3 1525.9,1387.4 1529.3,1386.5 1532.8,1385.6 1536.2,1384.6 1539.6,1383.6 1543.0,1382.7 1546.4,1381.6 1549.8,1380.6 1553.2,1379.5 1556.6,1378.4 1560.0,1377.3 1563.5,1376.1 1566.9,1374.9 1570.3,1373.7 1573.7,1372.4 1577.1,1371.2 1580.5,1369.8 1583.9,1368.5 1587.3,1367.1 1590.7,1365.7 1594.2,1364.3 1597.6,1362.8 1601.0,1361.3 1604.4,1359.8 1607.8,1358.2 1611.2,1356.6 1614.6,1354.9 1618.0,1353.3 1621.4,1351.6 1624.8,1349.8 1628.3,1348.0 1631.7,1346.2 1635.1,1344.3 1638.5,1342.4 1641.9,1340.5 1645.3,1338.5 1648.7,1336.5 1652.1,1334.4 1655.5,1332.3 1659.0,1330.2 1662.4,1328.0 1665.8,1325.8 1669.2,1323.5 1672.6,1321.2 1676.0,1318.8 1679.4,1316.4 1682.8,1314.0 1686.2,1311.5 1689.6,1308.9 1693.1,1306.4 1696.5,1303.7 1699.9,1301.0 1703.3,1298.3 1706.7,1295.5 1710.1,1292.7 1713.5,1289.8 1716.9,1286.9 1720.3,1283.9 1723.8,1280.9 1727.2,1277.8 1730.6,1274.7 1734.0,1271.5 1737.4,1268.3 1740.8,1265.0 1744.2,1261.6 1747.6,1258.2 1751.0,1254.8 1754.4,1251.3 1757.9,1247.7 1761.3,1244.1 1764.7,1240.4 1768.1,1236.6 1771.5,1232.8 1774.9,1229.0 1778.3,1225.1 1781.7,1221.1 1785.1,1217.0 1788.6,1212.9 1792.0,1208.8 1795.4,1204.5 1798.8,1200.2 1802.2,1195.9 1805.6,1191.4 1809.0,1187.0 1812.4,1182.4 1815.8,1177.8 1819.3,1173.1 1822.7,1168.3 1826.1,1163.5 1829.5,1158.6 1832.9,1153.7 1836.3,1148.6 1839.7,1143.5 1843.1,1138.3 1846.5,1133.1 1849.9,1127.8 1853.4,1122.4 1856.8,1116.9 1860.2,1111.4 1863.6,1105.8 1867.0,1100.1 1870.4,1094.3 1873.8,1088.5 1877.2,1082.5 1880.6,1076.5 1884.1,1070.5 1887.5,1064.3 1890.9,1058.1 1894.3,1051.7 1897.7,1045.3 1901.1,1038.9 1904.5,1032.3 1907.9,1025.7 1911.3,1018.9 1914.7,1012.1 1918.2,1005.2 1921.6,998.2 1925.0,991.2 1928.4,984.0 1931.8,976.7 1935.2,969.4 1938.6,962.0 1942.0,954.5 1945.4,946.9 1948.9,939.2 1952.3,931.4 1955.7,923.5 1959.1,915.5" fill="none" stroke="#1e9a3c" stroke-width="3.6" stroke-dasharray="10,15"/>
<circle cx="1280.4" cy="931.4" r="11" fill="url(#gball)"/>
<circle cx="1285.4" cy="1017.3" r="11" fill="url(#gball)"/>
<circle cx="1285.4" cy="1022.0" r="11" fill="url(#gball)"/>
<circle cx="1427.3" cy="1365.8" r="11" fill="url(#gball)"/>
<circle cx="1452.6" cy="1375.1" r="11" fill="url(#gball)"/>
<circle cx="1472.8" cy="1384.4" r="11" fill="url(#gball)"/>
<circle cx="1569.1" cy="1400.6" r="11" fill="url(#gball)"/>
<circle cx="1584.3" cy="1404.1" r="11" fill="url(#gball)"/>
<circle cx="1629.9" cy="1406.4" r="11" fill="url(#gball)"/>
<circle cx="1650.1" cy="1408.7" r="11" fill="url(#gball)"/>
<circle cx="1817.3" cy="1413.4" r="11" fill="url(#gball)"/>
<circle cx="1837.5" cy="1413.4" r="11" fill="url(#gball)"/>
<circle cx="1878.0" cy="1414.6" r="11" fill="url(#gball)"/>
<circle cx="1888.2" cy="1414.6" r="11" fill="url(#gball)"/>
<circle cx="1959.1" cy="1415.7" r="11" fill="url(#gball)"/>
<circle cx="1280.4" cy="1412.9" r="9.5" fill="#c8ecc8" stroke="#2a9a3a" stroke-width="3"/>
<circle cx="1280.4" cy="1412.9" r="3.5" fill="none" stroke="#2a9a3a" stroke-width="1.5"/>
<circle cx="1285.4" cy="1411.2" r="9.5" fill="#c8ecc8" stroke="#2a9a3a" stroke-width="3"/>
<circle cx="1285.4" cy="1411.2" r="3.5" fill="none" stroke="#2a9a3a" stroke-width="1.5"/>
<circle cx="1427.3" cy="1398.0" r="9.5" fill="#c8ecc8" stroke="#2a9a3a" stroke-width="3"/>
<circle cx="1427.3" cy="1398.0" r="3.5" fill="none" stroke="#2a9a3a" stroke-width="1.5"/>
<circle cx="1452.6" cy="1399.7" r="9.5" fill="#c8ecc8" stroke="#2a9a3a" stroke-width="3"/>
<circle cx="1452.6" cy="1399.7" r="3.5" fill="none" stroke="#2a9a3a" stroke-width="1.5"/>
<circle cx="1472.8" cy="1391.5" r="9.5" fill="#c8ecc8" stroke="#2a9a3a" stroke-width="3"/>
<circle cx="1472.8" cy="1391.5" r="3.5" fill="none" stroke="#2a9a3a" stroke-width="1.5"/>
<circle cx="1569.1" cy="1347.1" r="9.5" fill="#c8ecc8" stroke="#2a9a3a" stroke-width="3"/>
<circle cx="1569.1" cy="1347.1" r="3.5" fill="none" stroke="#2a9a3a" stroke-width="1.5"/>
<circle cx="1574.1" cy="1373.4" r="9.5" fill="#c8ecc8" stroke="#2a9a3a" stroke-width="3"/>
<circle cx="1574.1" cy="1373.4" r="3.5" fill="none" stroke="#2a9a3a" stroke-width="1.5"/>
<circle cx="1584.3" cy="1368.4" r="9.5" fill="#c8ecc8" stroke="#2a9a3a" stroke-width="3"/>
<circle cx="1584.3" cy="1368.4" r="3.5" fill="none" stroke="#2a9a3a" stroke-width="1.5"/>
<circle cx="1629.9" cy="1332.2" r="9.5" fill="#c8ecc8" stroke="#2a9a3a" stroke-width="3"/>
<circle cx="1629.9" cy="1332.2" r="3.5" fill="none" stroke="#2a9a3a" stroke-width="1.5"/>
<circle cx="1650.1" cy="1319.1" r="9.5" fill="#c8ecc8" stroke="#2a9a3a" stroke-width="3"/>
<circle cx="1650.1" cy="1319.1" r="3.5" fill="none" stroke="#2a9a3a" stroke-width="1.5"/>
<circle cx="1817.3" cy="1171.0" r="9.5" fill="#c8ecc8" stroke="#2a9a3a" stroke-width="3"/>
<circle cx="1817.3" cy="1171.0" r="3.5" fill="none" stroke="#2a9a3a" stroke-width="1.5"/>
<circle cx="1822.3" cy="1227.0" r="9.5" fill="#c8ecc8" stroke="#2a9a3a" stroke-width="3"/>
<circle cx="1822.3" cy="1227.0" r="3.5" fill="none" stroke="#2a9a3a" stroke-width="1.5"/>
<circle cx="1837.5" cy="1223.7" r="9.5" fill="#c8ecc8" stroke="#2a9a3a" stroke-width="3"/>
<circle cx="1837.5" cy="1223.7" r="3.5" fill="none" stroke="#2a9a3a" stroke-width="1.5"/>
<circle cx="1878.0" cy="1075.6" r="9.5" fill="#c8ecc8" stroke="#2a9a3a" stroke-width="3"/>
<circle cx="1878.0" cy="1075.6" r="3.5" fill="none" stroke="#2a9a3a" stroke-width="1.5"/>
<circle cx="1888.2" cy="924.3" r="9.5" fill="#c8ecc8" stroke="#2a9a3a" stroke-width="3"/>
<circle cx="1888.2" cy="924.3" r="3.5" fill="none" stroke="#2a9a3a" stroke-width="1.5"/>
<circle cx="1959.1" cy="902.9" r="9.5" fill="#c8ecc8" stroke="#2a9a3a" stroke-width="3"/>
<circle cx="1959.1" cy="902.9" r="3.5" fill="none" stroke="#2a9a3a" stroke-width="1.5"/>
<circle cx="1959.1" cy="934.2" r="9.5" fill="#c8ecc8" stroke="#2a9a3a" stroke-width="3"/>
<circle cx="1959.1" cy="934.2" r="3.5" fill="none" stroke="#2a9a3a" stroke-width="1.5"/>
<line x1="1305" y1="1215" x2="1230" y2="1215" stroke="#2a2ad0" stroke-width="4"/>
<path d="M1213,1215 l22,-9 l0,18 z" fill="#2a2ad0"/>
<line x1="1899" y1="1215" x2="1985" y2="1215" stroke="#1a9a3a" stroke-width="4"/>
<path d="M2004,1215 l-22,-9 l0,18 z" fill="#1a9a3a"/>
<text x="1610" y="1587" font-family="'Liberation Sans', Arial, sans-serif" font-size="36" fill="#3a3a3a" text-anchor="middle"><tspan font-style="italic">t</tspan><tspan font-size="22" dy="8">s</tspan><tspan dy="-8"> (&#197;)</tspan></text>
<text x="0" y="0" transform="translate(1099,1193) rotate(-90)" font-family="'Liberation Sans', Arial, sans-serif" font-size="36" fill="#3a3a3a" text-anchor="middle">&#947; (nm<tspan font-size="22" dy="-12">-2</tspan><tspan dy="12">)</tspan></text>
<text x="0" y="0" transform="translate(2135,1184) rotate(-90)" font-family="'Liberation Sans', Arial, sans-serif" font-size="36" fill="#3a3a3a" text-anchor="middle"><tspan font-style="italic">D</tspan> (eV)</text>
<text x="1051.0" y="863.0" font-family="'Liberation Serif', 'Times New Roman', serif" font-weight="bold" font-size="56" fill="#000">(d)</text>
<polygon points="620.1,2403.9 1101.2,2181.1 1579.9,2407.9 1094.8,2700.2" fill="#fff"/>
<polyline points="632.7,2411.8 1114.1,2187.3 1116.3,1672.4" fill="none" stroke="#f0f1f3" stroke-width="2"/>
<polyline points="676.6,2439.1 1159.0,2208.5 1166.0,1688.6" fill="none" stroke="#f0f1f3" stroke-width="2"/>
<polyline points="721.7,2467.3 1205.0,2230.4 1217.2,1705.3" fill="none" stroke="#f0f1f3" stroke-width="2"/>
<polyline points="768.1,2496.3 1252.3,2252.7 1269.9,1722.5" fill="none" stroke="#f0f1f3" stroke-width="2"/>
<polyline points="816.0,2526.2 1300.8,2275.7 1324.2,1740.2" fill="none" stroke="#f0f1f3" stroke-width="2"/>
<polyline points="865.4,2557.0 1350.7,2299.3 1380.1,1758.4" fill="none" stroke="#f0f1f3" stroke-width="2"/>
<polyline points="916.3,2588.8 1401.9,2323.6 1437.8,1777.2" fill="none" stroke="#f0f1f3" stroke-width="2"/>
<polyline points="968.9,2621.6 1454.6,2348.5 1497.2,1796.6" fill="none" stroke="#f0f1f3" stroke-width="2"/>
<polyline points="1023.1,2655.4 1508.7,2374.2 1558.5,1816.5" fill="none" stroke="#f0f1f3" stroke-width="2"/>
<polyline points="1079.2,2690.4 1564.4,2400.6 1621.8,1837.2" fill="none" stroke="#f0f1f3" stroke-width="2"/>
<polyline points="1272.0,2593.4 793.8,2323.5 759.0,1779.0" fill="none" stroke="#f0f1f3" stroke-width="2"/>
<polyline points="1433.0,2496.4 953.6,2249.5 938.1,1720.9" fill="none" stroke="#f0f1f3" stroke-width="2"/>
<polyline points="605.0,2256.4 1101.4,2044.8 1595.5,2259.5" fill="none" stroke="#f0f1f3" stroke-width="2"/>
<polyline points="588.9,2099.1 1101.6,1900.5 1612.2,2101.2" fill="none" stroke="#f0f1f3" stroke-width="2"/>
<polyline points="571.6,1931.1 1101.8,1747.6 1630.1,1932.0" fill="none" stroke="#f0f1f3" stroke-width="2"/>
<polyline points="620.1,2403.9 562.5,1842.7 1101.9,1667.7 1639.4,1842.9" fill="none" stroke="#5c5c5c" stroke-width="2.6"/>
<line x1="1101.2" y1="2181.1" x2="1101.9" y2="1667.7" stroke="#707070" stroke-width="2.6"/>
<line x1="620.1" y1="2403.9" x2="1101.2" y2="2181.1" stroke="#c8c8c8" stroke-width="2"/>
<line x1="1101.2" y1="2181.1" x2="1579.9" y2="2407.9" stroke="#c8c8c8" stroke-width="2"/>
<g stroke-width="1.2" stroke-linejoin="round"><polygon points="981.7,2241.5 997.1,2249.4 987.3,1763.1 970.3,1756.9" fill="#8e96cb" stroke="#8e96cb"/><polygon points="997.1,2249.4 1100.4,2201.0 1101.1,1724.5 987.3,1763.1" fill="#aeb4dc" stroke="#aeb4dc"/><polygon points="970.3,1756.9 987.3,1763.1 1101.1,1724.5 1084.1,1718.6" fill="#6c76a8" stroke="#6c76a8"/></g>
<g stroke-width="1.2" stroke-linejoin="round"><polygon points="823.7,2314.9 839.1,2323.4 815.4,1886.8 798.8,1879.7" fill="#fe6948" stroke="#fe6948"/><polygon points="839.1,2323.4 951.1,2271.0 938.2,1843.0 815.4,1886.8" fill="#fd8f78" stroke="#fd8f78"/><polygon points="798.8,1879.7 815.4,1886.8 938.2,1843.0 921.5,1836.4" fill="#e04b31" stroke="#e04b31"/></g>
<g stroke-width="1.2" stroke-linejoin="round"><polygon points="1026.2,2264.2 1042.1,2272.3 1037.1,1809.4 1019.7,1802.9" fill="#8e96cb" stroke="#8e96cb"/><polygon points="1042.1,2272.3 1145.5,2222.6 1150.4,1769.0 1037.1,1809.4" fill="#aeb4dc" stroke="#aeb4dc"/><polygon points="1019.7,1802.9 1037.1,1809.4 1150.4,1769.0 1133.0,1762.9" fill="#6c76a8" stroke="#6c76a8"/></g>
<g stroke-width="1.2" stroke-linejoin="round"><polygon points="652.2,2394.5 667.4,2403.9 637.3,2078.6 621.3,2070.3" fill="#7dcc5f" stroke="#7dcc5f"/><polygon points="667.4,2403.9 789.1,2346.8 768.3,2027.9 637.3,2078.6" fill="#a9db8f" stroke="#a9db8f"/><polygon points="621.3,2070.3 637.3,2078.6 768.3,2027.9 752.1,2020.2" fill="#58a847" stroke="#58a847"/></g>
<g stroke-width="1.2" stroke-linejoin="round"><polygon points="868.0,2339.5 883.8,2348.3 865.4,1939.1 848.3,1931.7" fill="#fe6948" stroke="#fe6948"/><polygon points="883.8,2348.3 996.0,2294.4 987.7,1893.4 865.4,1939.1" fill="#fd8f78" stroke="#fd8f78"/><polygon points="848.3,1931.7 865.4,1939.1 987.7,1893.4 970.5,1886.5" fill="#e04b31" stroke="#e04b31"/></g>
<g stroke-width="1.2" stroke-linejoin="round"><polygon points="1072.0,2287.4 1088.3,2295.7 1088.0,2075.0 1071.0,2067.4" fill="#8e96cb" stroke="#8e96cb"/><polygon points="1088.3,2295.7 1191.8,2244.8 1196.2,2028.1 1088.0,2075.0" fill="#aeb4dc" stroke="#aeb4dc"/><polygon points="1071.0,2067.4 1088.0,2075.0 1196.2,2028.1 1179.1,2021.0" fill="#6c76a8" stroke="#6c76a8"/></g>
<g stroke-width="1.2" stroke-linejoin="round"><polygon points="695.9,2421.4 711.5,2431.0 687.5,2142.8 671.1,2134.2" fill="#7dcc5f" stroke="#7dcc5f"/><polygon points="711.5,2431.0 833.6,2372.3 817.8,2089.7 687.5,2142.8" fill="#a9db8f" stroke="#a9db8f"/><polygon points="671.1,2134.2 687.5,2142.8 817.8,2089.7 801.2,2081.7" fill="#58a847" stroke="#58a847"/></g>
<g stroke-width="1.2" stroke-linejoin="round"><polygon points="913.5,2364.8 929.7,2373.8 924.0,2210.9 907.2,2202.4" fill="#fe6948" stroke="#fe6948"/><polygon points="929.7,2373.8 1042.1,2318.5 1040.3,2158.5 924.0,2210.9" fill="#fd8f78" stroke="#fd8f78"/><polygon points="907.2,2202.4 924.0,2210.9 1040.3,2158.5 1023.5,2150.5" fill="#e04b31" stroke="#e04b31"/></g>
<g stroke-width="1.2" stroke-linejoin="round"><polygon points="1119.0,2311.4 1135.7,2319.9 1136.7,2211.4 1119.6,2203.2" fill="#8e96cb" stroke="#8e96cb"/><polygon points="1135.7,2319.9 1239.3,2267.5 1242.5,2161.1 1136.7,2211.4" fill="#aeb4dc" stroke="#aeb4dc"/><polygon points="1119.6,2203.2 1136.7,2211.4 1242.5,2161.1 1225.4,2153.3" fill="#6c76a8" stroke="#6c76a8"/></g>
<g stroke-width="1.2" stroke-linejoin="round"><polygon points="740.9,2449.0 757.0,2458.9 754.0,2418.5 737.8,2408.8" fill="#7dcc5f" stroke="#7dcc5f"/><polygon points="757.0,2458.9 879.5,2398.6 877.6,2358.9 754.0,2418.5" fill="#a9db8f" stroke="#a9db8f"/><polygon points="737.8,2408.8 754.0,2418.5 877.6,2358.9 861.3,2349.8" fill="#58a847" stroke="#58a847"/></g>
<g stroke-width="1.2" stroke-linejoin="round"><polygon points="960.3,2390.8 977.0,2400.1 974.9,2317.1 957.9,2308.1" fill="#fe6948" stroke="#fe6948"/><polygon points="977.0,2400.1 1089.5,2343.2 1089.4,2261.7 974.9,2317.1" fill="#fd8f78" stroke="#fd8f78"/><polygon points="957.9,2308.1 974.9,2317.1 1089.4,2261.7 1072.4,2253.2" fill="#e04b31" stroke="#e04b31"/></g>
<g stroke-width="1.2" stroke-linejoin="round"><polygon points="1167.3,2335.9 1184.5,2344.7 1187.1,2210.8 1169.4,2202.5" fill="#8e96cb" stroke="#8e96cb"/><polygon points="1184.5,2344.7 1288.0,2290.9 1293.4,2159.5 1187.1,2210.8" fill="#aeb4dc" stroke="#aeb4dc"/><polygon points="1169.4,2202.5 1187.1,2210.8 1293.4,2159.5 1275.7,2151.7" fill="#6c76a8" stroke="#6c76a8"/></g>
<g stroke-width="1.2" stroke-linejoin="round"><polygon points="787.2,2477.5 803.8,2487.7 802.7,2471.5 786.1,2461.3" fill="#7dcc5f" stroke="#7dcc5f"/><polygon points="803.8,2487.7 926.6,2425.6 926.0,2409.7 802.7,2471.5" fill="#a9db8f" stroke="#a9db8f"/><polygon points="786.1,2461.3 802.7,2471.5 926.0,2409.7 909.3,2400.2" fill="#58a847" stroke="#58a847"/></g>
<g stroke-width="1.2" stroke-linejoin="round"><polygon points="1008.4,2417.6 1025.6,2427.2 1024.0,2324.7 1006.5,2315.4" fill="#fe6948" stroke="#fe6948"/><polygon points="1025.6,2427.2 1138.3,2368.7 1139.2,2268.0 1024.0,2324.7" fill="#fd8f78" stroke="#fd8f78"/><polygon points="1006.5,2315.4 1024.0,2324.7 1139.2,2268.0 1121.6,2259.4" fill="#e04b31" stroke="#e04b31"/></g>
<g stroke-width="1.2" stroke-linejoin="round"><polygon points="1217.0,2361.2 1234.7,2370.2 1238.1,2256.1 1220.0,2247.4" fill="#8e96cb" stroke="#8e96cb"/><polygon points="1234.7,2370.2 1338.2,2315.0 1344.0,2202.9 1238.1,2256.1" fill="#aeb4dc" stroke="#aeb4dc"/><polygon points="1220.0,2247.4 1238.1,2256.1 1344.0,2202.9 1325.8,2194.8" fill="#6c76a8" stroke="#6c76a8"/></g>
<g stroke-width="1.2" stroke-linejoin="round"><polygon points="834.9,2506.8 852.0,2517.3 850.8,2494.2 833.6,2483.8" fill="#7dcc5f" stroke="#7dcc5f"/><polygon points="852.0,2517.3 975.1,2453.4 974.5,2430.7 850.8,2494.2" fill="#a9db8f" stroke="#a9db8f"/><polygon points="833.6,2483.8 850.8,2494.2 974.5,2430.7 957.3,2421.0" fill="#58a847" stroke="#58a847"/></g>
<g stroke-width="1.2" stroke-linejoin="round"><polygon points="1057.9,2445.2 1075.6,2455.0 1075.3,2368.3 1057.3,2358.7" fill="#fe6948" stroke="#fe6948"/><polygon points="1075.6,2455.0 1188.4,2394.9 1190.1,2309.7 1075.3,2368.3" fill="#fd8f78" stroke="#fd8f78"/><polygon points="1057.3,2358.7 1075.3,2368.3 1190.1,2309.7 1172.1,2300.7" fill="#e04b31" stroke="#e04b31"/></g>
<g stroke-width="1.2" stroke-linejoin="round"><polygon points="1268.0,2387.1 1286.2,2396.4 1291.5,2270.7 1272.7,2261.9" fill="#8e96cb" stroke="#8e96cb"/><polygon points="1286.2,2396.4 1389.6,2339.6 1397.5,2216.3 1291.5,2270.7" fill="#aeb4dc" stroke="#aeb4dc"/><polygon points="1272.7,2261.9 1291.5,2270.7 1397.5,2216.3 1378.8,2207.9" fill="#6c76a8" stroke="#6c76a8"/></g>
<g stroke-width="1.2" stroke-linejoin="round"><polygon points="884.1,2537.0 901.7,2547.8 901.1,2532.8 883.4,2522.1" fill="#7dcc5f" stroke="#7dcc5f"/><polygon points="901.7,2547.8 1025.1,2482.0 1024.9,2467.3 901.1,2532.8" fill="#a9db8f" stroke="#a9db8f"/><polygon points="883.4,2522.1 901.1,2532.8 1024.9,2467.3 1007.2,2457.2" fill="#58a847" stroke="#58a847"/></g>
<g stroke-width="1.2" stroke-linejoin="round"><polygon points="1108.9,2473.6 1127.2,2483.7 1127.8,2393.2 1109.2,2383.3" fill="#fe6948" stroke="#fe6948"/><polygon points="1127.2,2483.7 1240.0,2421.8 1242.8,2332.9 1127.8,2393.2" fill="#fd8f78" stroke="#fd8f78"/><polygon points="1109.2,2383.3 1127.8,2393.2 1242.8,2332.9 1224.2,2323.6" fill="#e04b31" stroke="#e04b31"/></g>
<g stroke-width="1.2" stroke-linejoin="round"><polygon points="1320.6,2413.9 1339.3,2423.4 1344.6,2325.4 1325.4,2316.1" fill="#8e96cb" stroke="#8e96cb"/><polygon points="1339.3,2423.4 1442.6,2365.0 1449.8,2268.8 1344.6,2325.4" fill="#aeb4dc" stroke="#aeb4dc"/><polygon points="1325.4,2316.1 1344.6,2325.4 1449.8,2268.8 1430.7,2260.1" fill="#6c76a8" stroke="#6c76a8"/></g>
<g stroke-width="1.2" stroke-linejoin="round"><polygon points="934.8,2568.2 953.0,2579.3 952.3,2559.7 934.1,2548.6" fill="#7dcc5f" stroke="#7dcc5f"/><polygon points="953.0,2579.3 1076.6,2511.5 1076.5,2492.2 952.3,2559.7" fill="#a9db8f" stroke="#a9db8f"/><polygon points="934.1,2548.6 952.3,2559.7 1076.5,2492.2 1058.2,2481.8" fill="#58a847" stroke="#58a847"/></g>
<g stroke-width="1.2" stroke-linejoin="round"><polygon points="1161.5,2502.8 1180.3,2513.3 1181.7,2436.5 1162.6,2426.3" fill="#fe6948" stroke="#fe6948"/><polygon points="1180.3,2513.3 1293.1,2449.5 1296.4,2374.1 1181.7,2436.5" fill="#fd8f78" stroke="#fd8f78"/><polygon points="1162.6,2426.3 1181.7,2436.5 1296.4,2374.1 1277.3,2364.6" fill="#e04b31" stroke="#e04b31"/></g>
<g stroke-width="1.2" stroke-linejoin="round"><polygon points="1374.7,2441.4 1394.0,2451.2 1397.8,2392.2 1378.3,2382.6" fill="#8e96cb" stroke="#8e96cb"/><polygon points="1394.0,2451.2 1497.0,2391.1 1502.1,2333.2 1397.8,2392.2" fill="#aeb4dc" stroke="#aeb4dc"/><polygon points="1378.3,2382.6 1397.8,2392.2 1502.1,2333.2 1482.6,2324.2" fill="#6c76a8" stroke="#6c76a8"/></g>
<g stroke-width="1.2" stroke-linejoin="round"><polygon points="987.2,2600.3 1005.9,2611.8 1005.5,2595.8 986.8,2584.4" fill="#7dcc5f" stroke="#7dcc5f"/><polygon points="1005.9,2611.8 1129.6,2541.9 1129.8,2526.2 1005.5,2595.8" fill="#a9db8f" stroke="#a9db8f"/><polygon points="986.8,2584.4 1005.5,2595.8 1129.8,2526.2 1111.0,2515.5" fill="#58a847" stroke="#58a847"/></g>
<g stroke-width="1.2" stroke-linejoin="round"><polygon points="1215.6,2533.0 1235.0,2543.7 1235.9,2515.9 1216.4,2505.3" fill="#fe6948" stroke="#fe6948"/><polygon points="1235.0,2543.7 1347.8,2478.1 1349.3,2450.8 1235.9,2515.9" fill="#fd8f78" stroke="#fd8f78"/><polygon points="1216.4,2505.3 1235.9,2515.9 1349.3,2450.8 1329.9,2440.8" fill="#e04b31" stroke="#e04b31"/></g>
<g stroke-width="1.2" stroke-linejoin="round"><polygon points="1430.3,2469.7 1450.2,2479.8 1455.3,2415.0 1435.1,2405.1" fill="#8e96cb" stroke="#8e96cb"/><polygon points="1450.2,2479.8 1553.1,2418.0 1559.4,2354.4 1455.3,2415.0" fill="#aeb4dc" stroke="#aeb4dc"/><polygon points="1435.1,2405.1 1455.3,2415.0 1559.4,2354.4 1539.3,2345.1" fill="#6c76a8" stroke="#6c76a8"/></g>
<g stroke-width="1.2" stroke-linejoin="round"><polygon points="1041.2,2633.5 1060.5,2645.4 1060.3,2625.4 1040.9,2613.6" fill="#7dcc5f" stroke="#7dcc5f"/><polygon points="1060.5,2645.4 1184.4,2573.2 1184.8,2553.6 1060.3,2625.4" fill="#a9db8f" stroke="#a9db8f"/><polygon points="1040.9,2613.6 1060.3,2625.4 1184.8,2553.6 1165.3,2542.5" fill="#58a847" stroke="#58a847"/></g>
<g stroke-width="1.2" stroke-linejoin="round"><polygon points="1271.5,2564.0 1291.4,2575.1 1293.2,2535.7 1273.1,2524.7" fill="#fe6948" stroke="#fe6948"/><polygon points="1291.4,2575.1 1404.1,2507.5 1406.8,2468.7 1293.2,2535.7" fill="#fd8f78" stroke="#fd8f78"/><polygon points="1273.1,2524.7 1293.2,2535.7 1406.8,2468.7 1386.7,2458.4" fill="#e04b31" stroke="#e04b31"/></g>
<g stroke-width="1.2" stroke-linejoin="round"><polygon points="1096.9,2667.7 1116.9,2680.0 1117.0,2660.6 1096.9,2648.4" fill="#7dcc5f" stroke="#7dcc5f"/><polygon points="1116.9,2680.0 1240.8,2605.5 1241.5,2586.5 1117.0,2660.6" fill="#a9db8f" stroke="#a9db8f"/><polygon points="1096.9,2648.4 1117.0,2660.6 1241.5,2586.5 1221.4,2575.1" fill="#58a847" stroke="#58a847"/></g>
<polyline points="620.1,2403.9 1094.8,2700.2 1579.9,2407.9 1639.4,1842.9" fill="none" stroke="#1a1a1a" stroke-width="3"/>
<line x1="636.2" y1="2434.0" x2="672.6" y2="2416.8" stroke="#1a1a1a" stroke-width="3"/>
<line x1="680.6" y1="2462.0" x2="717.1" y2="2444.3" stroke="#1a1a1a" stroke-width="3"/>
<line x1="726.3" y1="2490.8" x2="763.0" y2="2472.6" stroke="#1a1a1a" stroke-width="3"/>
<line x1="773.5" y1="2520.5" x2="810.2" y2="2501.8" stroke="#1a1a1a" stroke-width="3"/>
<line x1="822.0" y1="2551.2" x2="858.9" y2="2531.9" stroke="#1a1a1a" stroke-width="3"/>
<line x1="872.1" y1="2582.8" x2="909.1" y2="2562.9" stroke="#1a1a1a" stroke-width="3"/>
<line x1="923.8" y1="2615.4" x2="960.8" y2="2594.8" stroke="#1a1a1a" stroke-width="3"/>
<line x1="977.1" y1="2649.0" x2="1014.3" y2="2627.8" stroke="#1a1a1a" stroke-width="3"/>
<line x1="1032.2" y1="2683.8" x2="1069.4" y2="2661.9" stroke="#1a1a1a" stroke-width="3"/>
<line x1="1254.8" y1="2583.7" x2="1289.3" y2="2603.2" stroke="#1a1a1a" stroke-width="3"/>
<line x1="1415.8" y1="2487.6" x2="1450.2" y2="2505.3" stroke="#1a1a1a" stroke-width="3"/>
<line x1="1562.9" y1="2399.8" x2="1597.0" y2="2416.0" stroke="#1a1a1a" stroke-width="3"/>
<line x1="1094.8" y1="2700.2" x2="1112.1" y2="2711.0" stroke="#1a1a1a" stroke-width="3"/>
<line x1="1579.9" y1="2407.9" x2="1613.4" y2="2421.2" stroke="#1a1a1a" stroke-width="3"/>
<line x1="1587.6" y1="2334.9" x2="1603.4" y2="2341.2" stroke="#1a1a1a" stroke-width="3"/>
<line x1="1595.5" y1="2259.5" x2="1629.0" y2="2272.8" stroke="#1a1a1a" stroke-width="3"/>
<line x1="1603.7" y1="2181.6" x2="1619.6" y2="2187.9" stroke="#1a1a1a" stroke-width="3"/>
<line x1="1612.2" y1="2101.2" x2="1645.7" y2="2114.5" stroke="#1a1a1a" stroke-width="3"/>
<line x1="1621.0" y1="2018.0" x2="1636.8" y2="2024.3" stroke="#1a1a1a" stroke-width="3"/>
<line x1="1630.1" y1="1932.0" x2="1663.5" y2="1945.3" stroke="#1a1a1a" stroke-width="3"/>
<text x="0" y="0" transform="translate(1648.0,2447.0) rotate(-8) skewX(-22)" font-family="'Liberation Sans', Arial, sans-serif" font-size="35" fill="#3a3a3a" text-anchor="middle" dy="12">0</text>
<text x="0" y="0" transform="translate(1665.0,2300.0) rotate(-72)" font-family="'Liberation Sans', Arial, sans-serif" font-size="35" fill="#3a3a3a" text-anchor="middle" dy="12">2</text>
<text x="0" y="0" transform="translate(1684.0,2138.6) rotate(-35) skewX(-12)" font-family="'Liberation Sans', Arial, sans-serif" font-size="35" fill="#3a3a3a" text-anchor="middle" dy="12">4</text>
<text x="0" y="0" transform="translate(1706.0,1965.0) rotate(-10) skewX(-20)" font-family="'Liberation Sans', Arial, sans-serif" font-size="35" fill="#3a3a3a" text-anchor="middle" dy="12">6</text>
<text x="0" y="0" transform="translate(1748,2187) rotate(-82.5)" font-family="'Liberation Sans', Arial, sans-serif" font-size="45.5" fill="#3a3a3a" text-anchor="middle" dy="16">Binding energy (J/m<tspan font-size="28" dy="-17">2</tspan><tspan dy="17">)</tspan></text>
<text x="0" y="0" transform="translate(598.0,2428.0) rotate(-31.5)" font-family="'Liberation Sans', Arial, sans-serif" font-size="39.3" fill="#3a3a3a" text-anchor="end" dy="14">bare (B)</text>
<text x="0" y="0" transform="translate(641.7,2455.8) rotate(-31.5)" font-family="'Liberation Sans', Arial, sans-serif" font-size="39.7" fill="#3a3a3a" text-anchor="end" dy="14">bare (A)</text>
<text x="0" y="0" transform="translate(686.6,2484.5) rotate(-31.5)" font-family="'Liberation Sans', Arial, sans-serif" font-size="40.0" fill="#3a3a3a" text-anchor="end" dy="14">OH&#8211;HO (B)</text>
<text x="0" y="0" transform="translate(733.0,2514.0) rotate(-31.5)" font-family="'Liberation Sans', Arial, sans-serif" font-size="40.4" fill="#3a3a3a" text-anchor="end" dy="14">OH&#8211;HO (A)</text>
<text x="0" y="0" transform="translate(780.8,2544.4) rotate(-31.5)" font-family="'Liberation Sans', Arial, sans-serif" font-size="40.7" fill="#3a3a3a" text-anchor="end" dy="14">O&#8211;O (B)</text>
<text x="0" y="0" transform="translate(830.0,2575.8) rotate(-31.5)" font-family="'Liberation Sans', Arial, sans-serif" font-size="41.1" fill="#3a3a3a" text-anchor="end" dy="14">O&#8211;O (A)</text>
<text x="0" y="0" transform="translate(880.9,2608.1) rotate(-31.5)" font-family="'Liberation Sans', Arial, sans-serif" font-size="41.5" fill="#3a3a3a" text-anchor="end" dy="14">F&#8211;F (B)</text>
<text x="0" y="0" transform="translate(933.3,2641.6) rotate(-31.5)" font-family="'Liberation Sans', Arial, sans-serif" font-size="41.9" fill="#3a3a3a" text-anchor="end" dy="14">F&#8211;F (A)</text>
<text x="0" y="0" transform="translate(987.5,2676.1) rotate(-31.5)" font-family="'Liberation Sans', Arial, sans-serif" font-size="42.3" fill="#3a3a3a" text-anchor="end" dy="14">MoS<tspan font-size="26" dy="10">2</tspan></text>
<text x="0" y="0" transform="translate(1043.5,2711.7) rotate(-31.5)" font-family="'Liberation Sans', Arial, sans-serif" font-size="42.7" fill="#3a3a3a" text-anchor="end" dy="14">graphite</text>
<text x="0" y="0" transform="translate(690,2724) rotate(34.5)" font-family="'Liberation Sans', Arial, sans-serif" font-size="50" fill="#3a3a3a" text-anchor="middle" dy="17">Structure</text>
<text x="0" y="0" transform="translate(1211.6,2660.9) rotate(31.5) scale(1.05,1)" font-family="'Liberation Sans', Arial, sans-serif" font-size="38" fill="#3a3a3a" dy="27">PBE-Grimme</text>
<text x="0" y="0" transform="translate(1380.4,2557.8) rotate(31.5) scale(1.05,1)" font-family="'Liberation Sans', Arial, sans-serif" font-size="38" fill="#3a3a3a" dy="27">PW91-OBS</text>
<text x="0" y="0" transform="translate(1533.9,2464.0) rotate(31.5) scale(1.05,1)" font-family="'Liberation Sans', Arial, sans-serif" font-size="38" fill="#3a3a3a" dy="27">LDA-CAPZ-OBS</text>
<text x="43.5" y="1706.2" font-family="'Liberation Serif', 'Times New Roman', serif" font-weight="bold" font-size="56" fill="#000">(e)</text>
</svg></body></html>
